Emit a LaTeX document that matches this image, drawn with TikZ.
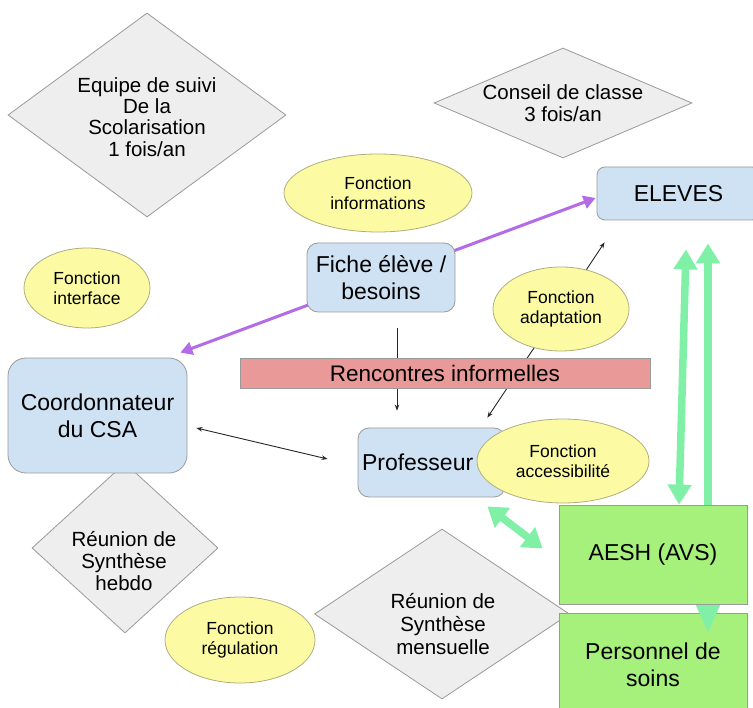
\documentclass[tikz,border=0pt]{standalone}
\usepackage{fontspec}
\setmainfont{Liberation Sans}
\usetikzlibrary{shapes.geometric,arrows.meta}
\pgfdeclarelayer{bg}
\pgfdeclarelayer{mid}
\pgfsetlayers{bg,mid,main}
\definecolor{boxblue}{HTML}{CFE2F3}
\definecolor{dgray}{HTML}{EEEEEE}
\definecolor{ellfill}{HTML}{FCFBA3}
\definecolor{barred}{HTML}{EA9999}
\definecolor{limefill}{HTML}{A6F07C}
\definecolor{mint}{HTML}{80F0A6}
\definecolor{purp}{HTML}{B36BE8}
\definecolor{edgegray}{HTML}{9A9A9A}
\definecolor{elledge}{HTML}{B0AE80}
\begin{document}
\begin{tikzpicture}[x=1pt,y=-1pt,
  bluebox/.style={draw=edgegray, fill=boxblue, rounded corners=#1, inner sep=0pt, align=center,
    font=\fontsize{23}{27}\selectfont, line width=0.8pt},
  greenbox/.style={draw=edgegray, fill=limefill, inner sep=0pt, align=center,
    font=\fontsize{23}{26.5}\selectfont, line width=0.8pt},
  barbox/.style={draw=edgegray, fill=barred, inner sep=0pt, align=center,
    font=\fontsize{22.5}{26}\selectfont, line width=0.8pt},
  dia/.style={diamond, draw=edgegray, fill=dgray, inner sep=0pt, line width=0.8pt},
  dtext/.style={align=center, inner sep=0pt, font=\fontsize{20.5}{22}\selectfont},
  elli/.style={ellipse, draw=elledge, fill=ellfill, inner sep=0pt, align=center,
    font=\fontsize{17.5}{20.5}\selectfont, line width=0.8pt},
  thin/.style={draw=black!85, line width=0.9pt},
  purplearrow/.style={draw=purp, line width=3pt, {Triangle[width=13pt,length=12pt]}-{Triangle[width=13pt,length=12pt]}},
  mintarrow/.style={draw=mint, line width=7.5pt}
]
\useasboundingbox (0,0) rectangle (753,708);

\begin{pgfonlayer}{bg}
\fill[white] (0,0) rectangle (753,708);
% diamonds
\node[dia, minimum width=278pt, minimum height=204pt] (ess) at (147,115) {};
\node[dtext, font=\fontsize{20.5}{21.2}\selectfont] (esst) at (147,117) {Equipe de suivi\\De la\\Scolarisation\\1 fois/an};
\node[dia, minimum width=258pt, minimum height=110pt] (cons) at (563,103) {};
\node[dtext] (const) at (563,103) {Conseil de classe\\3 fois/an};
\node[dia, minimum width=186pt, minimum height=170pt] (hebdo) at (125,548) {};
\node[dtext] (hebdot) at (124,561) {Réunion de\\Synthèse\\hebdo};
\node[dia, minimum width=255pt, minimum height=170pt] (mens) at (442,614) {};
\node[dtext, font=\fontsize{20.5}{23}\selectfont] (menst) at (443,624) {Réunion de\\Synthèse\\mensuelle};
% personnel box (under the long green arrow head)
\node[greenbox, minimum width=188pt, minimum height=104pt] (pers) at (653,665) {Personnel de\\soins};
\end{pgfonlayer}

\begin{scope}
\clip (0,0) rectangle (753,708);
\node[bluebox=8pt, minimum width=163pt, minimum height=53pt] (eleves) at (678.5,193.5) {ELEVES};
\end{scope}
\node[bluebox=11pt, minimum width=148pt, minimum height=69pt] (fiche) at (381,277.5) {Fiche élève /\\besoins};
\node[bluebox=18pt, minimum width=179pt, minimum height=115pt] (csa) at (97.5,415.5) {Coordonnateur\\du CSA};
\node[bluebox=11pt, minimum width=147pt, minimum height=69pt, text width=139pt, align=left] (prof) at (431.5,462.5) {Professeur};
\node[greenbox, minimum width=188pt, minimum height=99pt] (aesh) at (653,554.5) {AESH (AVS)};
\node[barbox, minimum width=410pt, minimum height=30pt] (bar) at (445,373) {Rencontres informelles};

% ellipses
\node[elli, minimum width=188pt, minimum height=78pt] (finfo) at (378,193) {Fonction\\informations};
\node[elli, minimum width=126pt, minimum height=80pt] (finter) at (87,288) {Fonction\\interface};
\node[elli, minimum width=136pt, minimum height=84pt] (fadapt) at (561,309) {Fonction\\adaptation};
\node[elli, minimum width=172pt, minimum height=84pt] (facc) at (563,461) {Fonction\\accessibilité};
\node[elli, minimum width=150pt, minimum height=86pt] (freg) at (240,640) {Fonction\\régulation};

% connectors, below the boxes
\begin{pgfonlayer}{mid}
\draw[purplearrow] ([xshift=-7pt,yshift=5pt]csa.north east) -- ([xshift=-1pt,yshift=-4.5pt]eleves.west);
\draw[thin, -{Stealth[length=6pt,width=4.5pt]}] ([xshift=16pt,yshift=-16pt]fiche.south) -- ([xshift=-34.5pt,yshift=17pt]prof.north);
\draw[thin, {Stealth[length=6pt,width=4.5pt]}-{Stealth[length=6pt,width=4.5pt]}] ([xshift=-18pt,yshift=10pt]prof.north east) -- ([xshift=8pt,yshift=-22pt]eleves.south west);
\draw[thin, {Stealth[length=6pt,width=4.5pt]}-{Stealth[length=6pt,width=4.5pt]}] ([xshift=9pt,yshift=-12.5pt]csa.east) -- ([xshift=-30pt,yshift=3.5pt]prof.west);
\draw[mintarrow, {Triangle[width=23pt,length=20pt]}-{Triangle[width=23pt,length=20pt]}] ([xshift=26pt]aesh.north) -- ([xshift=7.5pt,yshift=-29pt]eleves.south);
\draw[mintarrow, {Triangle[width=23pt,length=30pt]}-{Triangle[width=23pt,length=20pt]}] ([xshift=55pt,yshift=-21pt]pers.north) -- ([xshift=29.5pt,yshift=-23pt]eleves.south);
\draw[mintarrow, {Triangle[width=24pt,length=19pt]}-{Triangle[width=24pt,length=19pt]}] ([xshift=-18pt,yshift=-9pt]prof.south east) -- ([xshift=-16pt,yshift=-44pt]aesh.north west);
\end{pgfonlayer}
\end{tikzpicture}
\end{document}
